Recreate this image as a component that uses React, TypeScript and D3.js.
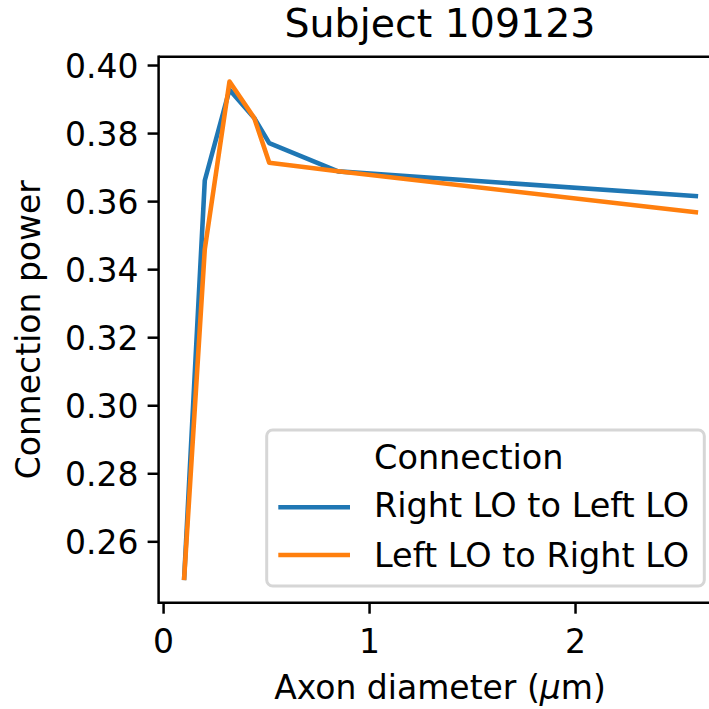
import React from "react";
import * as d3 from "d3";

const axonDiameter = [0.1, 0.2, 0.32, 0.44, 0.513, 0.847, 2.584];
const rightToLeft = [0.2494, 0.3662, 0.3929, 0.3846, 0.3772, 0.3689, 0.3616];
const leftToRight = [0.2494, 0.346, 0.3953, 0.3846, 0.3714, 0.3689, 0.3569];
const seriesNames = ["Right LO to Left LO", "Left LO to Right LO"];
const seriesColors = ["#1f77b4", "#ff7f0e"];
const yTicks = [0.26, 0.28, 0.3, 0.32, 0.34, 0.36, 0.38, 0.4];
const xTicks = [0, 1, 2];

const W = 709;
const H = 709;
const left = 158.6;
const right = 721.4;
const top = 56.7;
const bottom = 602.7;
const FONT = "DejaVu Sans";

export default function App() {
  const allY = [...rightToLeft, ...leftToRight];
  const xmin = d3.min(axonDiameter)!;
  const xmax = d3.max(axonDiameter)!;
  const ymin = d3.min(allY)!;
  const ymax = d3.max(allY)!;
  const xm = (xmax - xmin) * 0.05;
  const ym = (ymax - ymin) * 0.05;
  const x = d3.scaleLinear().domain([xmin - xm, xmax + xm]).range([left, right]);
  const y = d3.scaleLinear().domain([ymin - ym, ymax + ym]).range([bottom, top]);

  const line = d3
    .line<[number, number]>()
    .x((d) => x(d[0]))
    .y((d) => y(d[1]));

  const series = [rightToLeft, leftToRight].map((vals) =>
    axonDiameter.map((xv, i) => [xv, vals[i]] as [number, number])
  );

  const spineW = 2.5;
  const tickLen = 11;
  const fs = 33;
  const lfs = 33.5;

  return (
    <svg
      width={W}
      height={H}
      style={{ position: "absolute", left: 0, top: 0, background: "#fff" }}
      fontFamily={FONT}
    >
      <defs>
        <clipPath id="ax">
          <rect x={left} y={top} width={right - left} height={bottom - top} />
        </clipPath>
      </defs>
      <rect x={0} y={0} width={W} height={H} fill="#fff" />
      {/* lines */}
      <g clipPath="url(#ax)">
        {series.map((s, i) => (
          <path
            key={i}
            d={line(s) || ""}
            fill="none"
            stroke={seriesColors[i]}
            strokeWidth={4.6}
            strokeLinejoin="round"
            strokeLinecap="square"
          />
        ))}
      </g>
      {/* spines */}
      <line x1={left} x2={left} y1={top - spineW / 2} y2={bottom + spineW / 2} stroke="#000" strokeWidth={spineW} />
      <line x1={left} x2={right + 10} y1={top} y2={top} stroke="#000" strokeWidth={spineW} />
      <line x1={left} x2={right + 10} y1={bottom} y2={bottom} stroke="#000" strokeWidth={spineW} />
      {/* y ticks */}
      {yTicks.map((t) => (
        <g key={t}>
          <line x1={left - tickLen} x2={left} y1={y(t)} y2={y(t)} stroke="#000" strokeWidth={spineW} />
          <text x={left - tickLen - 9} y={y(t) + 12} textAnchor="end" fontSize={fs} fill="#000">
            {t.toFixed(2)}
          </text>
        </g>
      ))}
      {/* x ticks */}
      {xTicks.map((t) => (
        <g key={t}>
          <line x1={x(t)} x2={x(t)} y1={bottom} y2={bottom + tickLen} stroke="#000" strokeWidth={spineW} />
          <text x={x(t)} y={653} textAnchor="middle" fontSize={fs} fill="#000">
            {t}
          </text>
        </g>
      ))}
      {/* axis labels */}
      <text x={(left + right) / 2} y={699} textAnchor="middle" fontSize={fs} fill="#000">
        Axon diameter (<tspan fontStyle="italic">μ</tspan>m)
      </text>
      <text
        transform={`translate(40, ${(top + bottom) / 2}) rotate(-90)`}
        textAnchor="middle"
        fontSize={fs}
        fill="#000"
      >
        Connection power
      </text>
      {/* title */}
      <text x={(left + right) / 2} y={37} textAnchor="middle" fontSize={39.5} fill="#000">
        Subject 109123
      </text>
      {/* legend */}
      <g>
        <rect
          x={266.7}
          y={430}
          width={704.3 - 266.7}
          height={586 - 430}
          rx={6}
          ry={6}
          fill="#fff"
          fillOpacity={0.8}
          stroke="#d6d6d6"
          strokeWidth={3}
        />
        <text x={374} y={469} fontSize={lfs} fill="#000">
          Connection
        </text>
        {seriesNames.map((n, i) => (
          <g key={n}>
            <line
              x1={278.3}
              x2={350}
              y1={507.3 + i * 47.7}
              y2={507.3 + i * 47.7}
              stroke={seriesColors[i]}
              strokeWidth={4.6}
            />
            <text x={374} y={517 + i * 49.7} fontSize={lfs} fill="#000">
              {n}
            </text>
          </g>
        ))}
      </g>
    </svg>
  );
}
